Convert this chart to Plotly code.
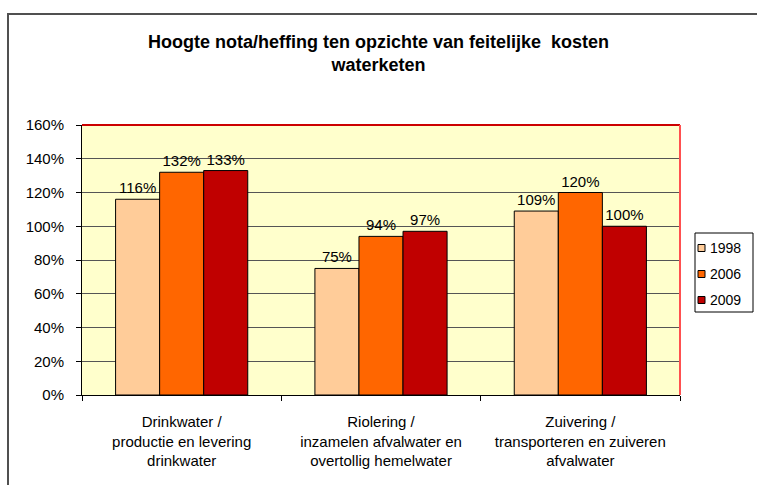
import plotly.graph_objects as go

categories = [
    "Drinkwater /<br>productie en levering<br>drinkwater",
    "Riolering /<br>inzamelen afvalwater en<br>overtollig hemelwater",
    "Zuivering /<br>transporteren en zuiveren<br>afvalwater",
]
years = ["1998", "2006", "2009"]
values_1998 = [116, 75, 109]
values_2006 = [132, 94, 120]
values_2009 = [133, 97, 100]
colors = ["#FFCC99", "#FF6600", "#C00000"]
y_ticks = [0, 20, 40, 60, 80, 100, 120, 140, 160]
y_ticklabels = [f"{v}%" for v in y_ticks]

font_family = "Liberation Sans, Arial, sans-serif"

fig = go.Figure()
for name, vals, col in zip(years, [values_1998, values_2006, values_2009], colors):
    fig.add_trace(go.Bar(
        x=categories, y=vals, name=name,
        marker=dict(color=col, line=dict(color="black", width=1)),
        text=[f"{v}%" for v in vals], textposition="outside",
        textfont=dict(size=15, color="black", family=font_family),
        cliponaxis=False, showlegend=False,
    ))

W, H = 757, 485
ml, mr, mt, mb = 82, 77, 125, 90
pw = W - ml - mr
ph = H - mt - mb

def px_x(px):
    return (px - ml) / pw

def px_y(py):
    return (mt + ph - py) / ph

fig.update_layout(
    width=W, height=H,
    margin=dict(l=ml, r=mr, t=mt, b=mb, pad=0, autoexpand=False),
    paper_bgcolor="white",
    plot_bgcolor="#FFFFCC",
    barmode="group",
    bargap=0.337,
    bargroupgap=0,
    font=dict(family=font_family, size=15, color="black"),
    title=dict(
        text="<b>Hoogte nota/heffing ten opzichte van feitelijke  kosten<br>waterketen</b>",
        x=0.5, xref="container", xanchor="center",
        y=1 - 48 / H, yref="container", yanchor="top",
        font=dict(size=18, family=font_family, color="black"),
    ),
    showlegend=False,
    uniformtext=dict(mode=False),
)

fig.update_xaxes(
    type="category", automargin=False,
    showline=True, linecolor="black", linewidth=1,
    ticks="outside", ticklen=5, tickcolor="black", tickson="boundaries",
    ticklabelstandoff=13,
    showgrid=False,
    tickfont=dict(size=15, color="black", family=font_family),
)
fig.update_yaxes(
    range=[0, 160], tickvals=y_ticks, ticktext=y_ticklabels, automargin=False,
    showline=True, linecolor="black", linewidth=1,
    ticks="outside", ticklen=5, tickcolor="black",
    ticklabelstandoff=9,
    showgrid=True, gridcolor="#555555", gridwidth=1,
    zeroline=False,
    tickfont=dict(size=15, color="black", family=font_family),
)

# red top and right borders of the plot area
fig.add_shape(type="line", xref="paper", yref="paper", x0=0, x1=1, y0=1, y1=1,
              line=dict(color="#CC0000", width=2), layer="above")
fig.add_shape(type="line", xref="paper", yref="paper", x0=1, x1=1, y0=0, y1=1,
              line=dict(color="#FF5050", width=2), layer="above")

# outer chart frame
fig.add_shape(type="rect", xref="paper", yref="paper",
              x0=px_x(8), x1=px_x(W + 20),
              y0=px_y(H + 20), y1=px_y(14),
              line=dict(color="#505050", width=2), fillcolor="rgba(0,0,0,0)", layer="below")

# legend box (built from the series names/colours)
lg_left, lg_right, lg_top, lg_bottom = 695, 753, 233, 312
fig.add_shape(type="rect", xref="paper", yref="paper",
              x0=px_x(lg_left), x1=px_x(lg_right), y0=px_y(lg_bottom), y1=px_y(lg_top),
              line=dict(color="black", width=1), fillcolor="white", layer="above")
item_step = 26
for i, (name, col) in enumerate(zip(years, colors)):
    cy = 248 + i * item_step
    fig.add_shape(type="rect", xref="paper", yref="paper",
                  x0=px_x(698), x1=px_x(705), y0=px_y(cy + 3.5), y1=px_y(cy - 3.5),
                  line=dict(color="black", width=1), fillcolor=col, layer="above")
    fig.add_annotation(xref="paper", yref="paper", x=px_x(708), y=px_y(cy),
                       xanchor="left", yanchor="middle", showarrow=False,
                       text=name, font=dict(size=14, family=font_family, color="black"))

fig.write_html("out.html", config={"displayModeBar": False},
               post_script="document.body.style.margin='0px';")
